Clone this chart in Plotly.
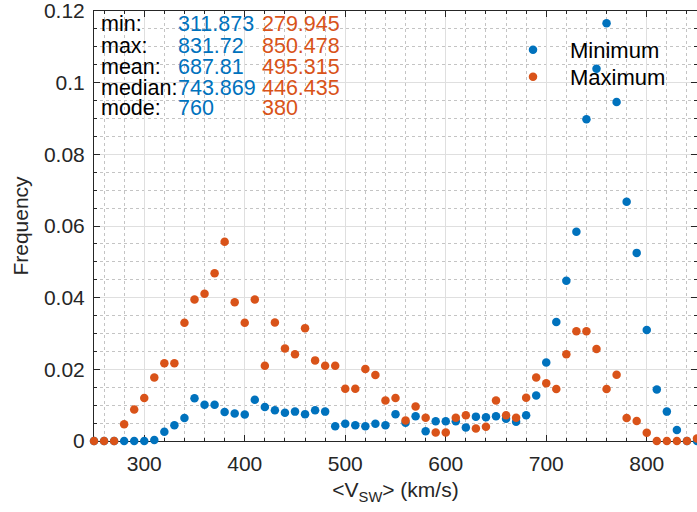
import plotly.graph_objects as go

# ---- data ----
bins = list(range(250, 851, 10))
minimum_freq = [0, 0, 0, 0, 0, 0, 0.0003, 0.0026, 0.0044, 0.0064,
                0.0119, 0.0101, 0.0101, 0.0081, 0.0077, 0.0074, 0.0115, 0.0095, 0.0086, 0.0079,
                0.0082, 0.0075, 0.0086, 0.0082, 0.0041, 0.0048, 0.0044, 0.0041, 0.0048, 0.0044,
                0.0075, 0.0051, 0.0069, 0.0027, 0.0055, 0.0055, 0.0055, 0.0038, 0.0068, 0.0066,
                0.0069, 0.0062, 0.0054, 0.0072, 0.0127, 0.0219, 0.0332, 0.0447, 0.0584, 0.0898,
                0.1039, 0.1166, 0.0946, 0.0668, 0.0525, 0.0310, 0.0144, 0.0082, 0.0031, 0, 0]
maximum_freq = [0, 0, 0, 0.0047, 0.0088, 0.0120, 0.0177, 0.0217, 0.0217, 0.0330,
                0.0395, 0.0411, 0.0468, 0.0556, 0.0387, 0.0330, 0.0395, 0.0210, 0.0331, 0.0258,
                0.0242, 0.0315, 0.0225, 0.0210, 0.0210, 0.0146, 0.0146, 0.0201, 0.0184, 0.0113,
                0.0120, 0.0057, 0.0096, 0.0065, 0.0024, 0.0024, 0.0065, 0.0072, 0.0035, 0.0040,
                0.0113, 0.0072, 0.0065, 0.0121, 0.0177, 0.0161, 0.0145, 0.0242, 0.0306, 0.0306,
                0.0257, 0.0145, 0.0185, 0.0064, 0.0056, 0.0023, 0, 0, 0, 0, 0.0007]

stat_labels = ["min:", "max:", "mean:", "median:", "mode:"]
min_stats = ["311.873", "831.72", "687.81", "743.869", "760"]
max_stats = ["279.945", "850.478", "495.315", "446.435", "380"]

x_tickvals = [300, 400, 500, 600, 700, 800]
x_ticktext = ["300", "400", "500", "600", "700", "800"]
y_tickvals = [0, 0.02, 0.04, 0.06, 0.08, 0.1, 0.12]
y_ticktext = ["0", "0.02", "0.04", "0.06", "0.08", "0.1", "0.12"]

# ---- style ----
BLUE = "#0072BD"
ORANGE = "#D95319"
AXC = "#262626"
FONT = "Liberation Sans, Arial, Helvetica, sans-serif"
W, H = 697, 512
L, R, T, B = 94, 0, 11, 71
PW, PH = W - L - R, H - T - B


def px_x(px):
    return (px - L) / PW


def px_y(py):
    return (H - B - py) / PH


fig = go.Figure()
fig.add_trace(go.Scatter(x=bins, y=minimum_freq, mode="markers", name="Minimum",
                         marker=dict(color=BLUE, size=8.5), cliponaxis=False,
                         legend="legend"))
fig.add_trace(go.Scatter(x=bins, y=maximum_freq, mode="markers", name="Maximum",
                         marker=dict(color=ORANGE, size=8.5), cliponaxis=False,
                         legend="legend2"))

axis_common = dict(
    showline=True, linecolor=AXC, linewidth=1, mirror="allticks",
    ticks="inside", ticklen=6, tickcolor=AXC, tickwidth=1,
    showgrid=True, gridcolor="#dfdfdf", gridwidth=1,
    zeroline=False, layer="below traces", ticklabeloverflow="allow",
    tickfont=dict(family=FONT, size=21, color=AXC),
)

fig.update_xaxes(
    range=[250, 850], tickvals=x_tickvals, ticktext=x_ticktext,
    minor=dict(dtick=20, tick0=0, ticks="inside", ticklen=3, tickcolor=AXC,
               showgrid=True, gridcolor="#c4c4c4", griddash="dot", gridwidth=1),
    title=dict(text="&lt;V<sub>SW</sub>&gt; (km/s)", font=dict(family=FONT, size=21, color=AXC),
               standoff=8),
    ticklabelstandoff=4,
    **axis_common,
)
fig.update_yaxes(
    range=[0, 0.120001], tickvals=y_tickvals, ticktext=y_ticktext,
    minor=dict(dtick=0.005, tick0=0, ticks="inside", ticklen=3, tickcolor=AXC,
               showgrid=True, gridcolor="#c4c4c4", griddash="dot", gridwidth=1),
    title=dict(text="Frequency", font=dict(family=FONT, size=21, color=AXC), standoff=9.5),
    ticklabelstandoff=4,
    **axis_common,
)

row_y = [23.7, 45.7, 67.5, 88.0, 108.0]
annotations = []
for i in range(len(stat_labels)):
    for txt, xpix, col in ((stat_labels[i], 100, "#000000"),
                           (min_stats[i], 176.5, BLUE),
                           (max_stats[i], 261, ORANGE)):
        annotations.append(dict(
            text=txt, x=px_x(xpix), y=px_y(row_y[i]), xref="paper", yref="paper",
            xanchor="left", yanchor="middle", showarrow=False, borderpad=0,
            font=dict(family=FONT, size=21.5, color=col),
        ))

legend_style = dict(xanchor="left", yanchor="top", bgcolor="rgba(0,0,0,0)", borderwidth=0,
                    font=dict(family=FONT, size=22, color="#000000"), itemwidth=64)

fig.update_layout(
    width=W, height=H,
    margin=dict(l=L, r=R, t=T, b=B, autoexpand=False),
    plot_bgcolor="white", paper_bgcolor="white",
    showlegend=True,
    legend=dict(x=px_x(496), y=px_y(29), **legend_style),
    legend2=dict(x=px_x(496), y=px_y(56), **legend_style),
    annotations=annotations,
)

fig.write_html("out.html")
